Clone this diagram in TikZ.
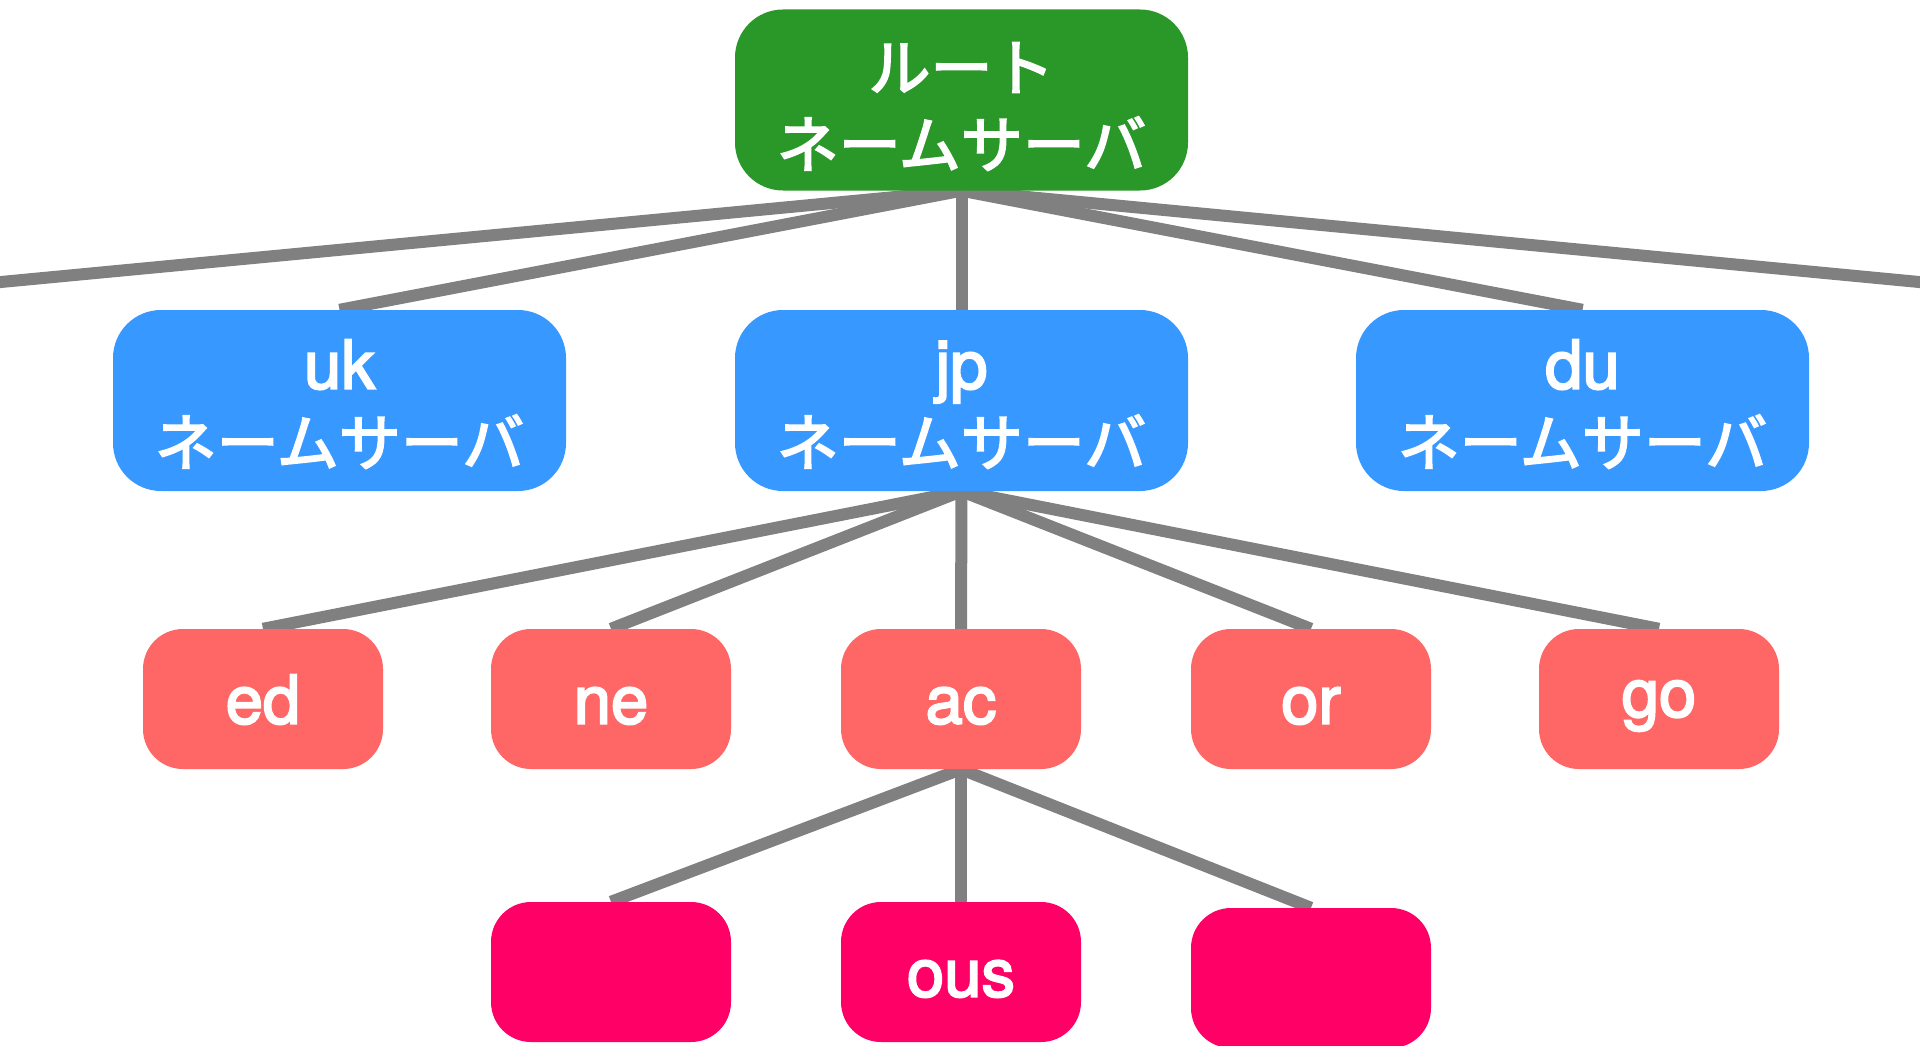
\documentclass[tikz,border=0pt]{standalone}
\usepackage{fontspec}
\setmainfont{TeX Gyre Heros}[FakeBold=3]
\newfontfamily\jpfont{Noto Sans CJK JP}[FakeBold=3]
\usetikzlibrary{backgrounds}
\definecolor{rootgreen}{RGB}{41,152,41}
\definecolor{nsblue}{RGB}{55,153,255}
\definecolor{coral}{RGB}{255,102,102}
\definecolor{hotpink}{RGB}{255,0,102}
\definecolor{edgegray}{RGB}{128,128,128}
\newcommand{\jp}[1]{{\jpfont\fontsize{62}{77}\selectfont #1}}
\newcommand{\lift}[1]{\rule{0pt}{#1}}
\begin{document}
\begin{tikzpicture}[x=1pt,y=-1pt,
  bigbox/.style={rounded corners=48pt, inner sep=0pt, minimum width=453pt, minimum height=181pt,
    text=white, align=center, font=\fontsize{67}{77}\selectfont},
  smallbox/.style={rounded corners=40pt, inner sep=0pt, minimum width=240pt, minimum height=140pt,
    text=white, align=center, font=\fontsize{67}{77}\selectfont},
  link/.style={draw=edgegray, line width=12pt}]
\useasboundingbox (0,0) rectangle (1920,1046);

\node[bigbox, fill=rootgreen] (root) at (961.5,100) {\lift{61pt}\jp{ルート}\\\jp{ネームサーバ}};
\node[bigbox, fill=nsblue] (uk) at (339.5,400.5) {\lift{56pt}uk\\\jp{ネームサーバ}};
\node[bigbox, fill=nsblue] (jpn) at (961.5,400.5) {\lift{56pt}jp\\\jp{ネームサーバ}};
\node[bigbox, fill=nsblue] (du) at (1582.5,400.5) {\lift{56pt}du\\\jp{ネームサーバ}};

\node[smallbox, fill=coral] (ed) at (263,699) {\lift{50pt}ed};
\node[smallbox, fill=coral] (ne) at (611,699) {\lift{50pt}ne};
\node[smallbox, fill=coral] (ac) at (961,699) {\lift{50pt}ac};
\node[smallbox, fill=coral] (or) at (1311,699) {\lift{50pt}or};
\node[smallbox, fill=coral] (go) at (1659,699) {\lift{50pt}go};

\node[smallbox, fill=hotpink] (c1) at (611,972) {};
\node[smallbox, fill=hotpink] (ous) at (961,972) {\lift{50pt}ous};
\node[smallbox, fill=hotpink] (c3) at (1311,978) {};

\coordinate (offL) at (-20,284);
\coordinate (offR) at (1940,284);

\begin{scope}[on background layer]
\fill[white] (0,0) rectangle (1920,1046);
\draw[link] (root.south) -- (offL);
\draw[link] (root.south) -- (offR);
\draw[link] (root.south) -- (uk.north);
\draw[link] (root.south) -- (jpn.north);
\draw[link] (root.south) -- (du.north);
\draw[link] (jpn.south) -- (ed.north);
\draw[link] (jpn.south) -- (ne.north);
\draw[link] (jpn.south) -- (ac.north);
\draw[link] (jpn.south) -- (or.north);
\draw[link] (jpn.south) -- (go.north);
\draw[link] (ac.south) -- (c1.north);
\draw[link] (ac.south) -- (ous.north);
\draw[link] (ac.south) -- (c3.north);
\end{scope}
\end{tikzpicture}
\end{document}
